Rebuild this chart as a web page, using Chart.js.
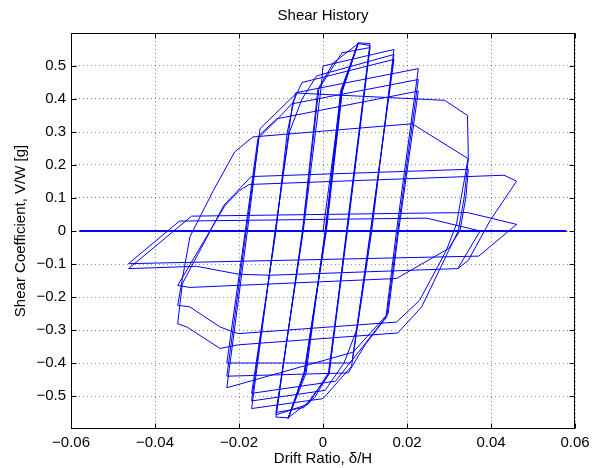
<!DOCTYPE html>
<html>
<head>
<meta charset="utf-8">
<script src="https://cdn.jsdelivr.net/npm/chart.js@4.4.0/dist/chart.umd.js"></script>
<style>
  html, body { margin: 0; padding: 0; background: #fff; }
</style>
</head>
<body>
<canvas id="shear-chart" width="601" height="468"></canvas>
<script>
// axis ticks
const xTicks = [-0.06, -0.04, -0.02, 0, 0.02, 0.04, 0.06];
const xTickLabels = ['\u22120.06', '\u22120.04', '\u22120.02', '0', '0.02', '0.04', '0.06'];
const yTicks = [-0.5, -0.4, -0.3, -0.2, -0.1, 0, 0.1, 0.2, 0.3, 0.4, 0.5];
const yTickLabels = ['\u22120.5', '\u22120.4', '\u22120.3', '\u22120.2', '\u22120.1', '0', '0.1', '0.2', '0.3', '0.4', '0.5'];

// zero line [drift, shear]
const baseline = [[-0.058, 0], [0.058, 0]];

// hysteresis path: [drift ratio, shear coefficient]
const elasticCycles = [
    [0.0000, 0.000], [0.0045, 0.430], [0.0084, 0.570], [0.0045, 0.420],
    [0.0005, 0.000], [-0.0040, -0.430], [-0.0083, -0.568], [-0.0045, -0.430],
    [0.0007, 0.000], [0.0045, 0.430], [0.0084, 0.570], [0.0042, 0.425],
    [0.0006, 0.000], [-0.0042, -0.425], [-0.0083, -0.568], [-0.0044, -0.425],
    [0.0008, 0.000], [0.0046, 0.425], [0.0084, 0.570],
    [0.0112, 0.568], [0.0056, 0.000], [0.0015, -0.430], [-0.0020, -0.505],
    [-0.0083, -0.566], [-0.0112, -0.564], [-0.0049, 0.000], [-0.0012, 0.430],
    [0.0025, 0.510], [0.0084, 0.568], [0.0112, 0.562], [0.0057, 0.000],
    [0.0013, -0.430], [-0.0035, -0.525], [-0.0112, -0.557], [-0.0048, 0.000],
    [-0.0010, 0.430], [0.0045, 0.540], [0.0112, 0.556], [0.0058, 0.000],
    [0.0014, -0.435], [-0.0045, -0.535], [-0.0112, -0.550], [-0.0047, 0.000],
    [-0.0004, 0.440], [0.0000, 0.500],
];
const midCycles = [
    [0.0169, 0.550], [0.0116, 0.000], [0.0068, -0.410], [0.0000, -0.508],
    [-0.0170, -0.538], [-0.0114, 0.000], [-0.0080, 0.300], [-0.0050, 0.400],
    [-0.0015, 0.470], [0.0169, 0.535], [0.0114, 0.000], [0.0080, -0.300],
    [0.0050, -0.400], [0.0005, -0.483], [-0.0170, -0.515], [-0.0113, 0.000],
    [-0.0072, 0.390], [-0.0050, 0.450], [0.0169, 0.520], [0.0113, 0.000],
    [0.0070, -0.390], [0.0030, -0.455], [-0.0170, -0.492], [-0.0112, 0.000],
    [-0.0085, 0.300], [-0.0065, 0.419], [0.0227, 0.492], [0.0175, 0.000],
    [0.0150, -0.260], [0.0095, -0.350], [0.0064, -0.400], [-0.0229, -0.400],
    [-0.0185, 0.000], [-0.0155, 0.280], [-0.0100, 0.350], [-0.0075, 0.385],
    [0.0227, 0.459], [0.0178, 0.000], [0.0152, -0.260], [0.0100, -0.345],
    [0.0060, -0.430], [-0.0229, -0.440], [-0.0183, 0.000], [-0.0152, 0.290],
    [-0.0110, 0.340], [0.0227, 0.424], [0.0180, 0.000], [0.0155, -0.250],
    [0.0105, -0.320], [0.0072, -0.367], [-0.0229, -0.475],
];
const largeCycles = [
    [-0.0180, 0.000], [-0.0150, 0.310], [-0.0063, 0.418], [0.0290, 0.396],
    [0.0344, 0.350], [0.0346, 0.224], [0.0318, 0.022], [0.0294, -0.058],
    [0.0230, -0.210], [0.0175, -0.276], [-0.0202, -0.311], [-0.0245, -0.291],
    [-0.0317, -0.230], [-0.0346, -0.225], [-0.0317, -0.018], [-0.0261, 0.123],
    [-0.0210, 0.240], [-0.0167, 0.285], [0.0212, 0.325], [0.0346, 0.219],
    [0.0336, 0.100], [0.0322, 0.000], [0.0299, -0.060], [0.0235, -0.230],
    [0.0178, -0.309], [-0.0202, -0.345], [-0.0245, -0.356], [-0.0324, -0.291],
    [-0.0346, -0.281], [-0.0335, -0.160], [-0.0236, 0.078], [-0.0171, 0.165],
    [0.0346, 0.187], [0.0340, 0.100], [0.0326, 0.000], [0.0299, -0.053],
    [0.0175, -0.144], [-0.0317, -0.171], [-0.0346, -0.165], [-0.0233, 0.078],
    [-0.0198, 0.123], [-0.0176, 0.141],
];
const finalCycles = [
    [0.0431, 0.169], [0.0461, 0.151], [0.0398, 0.032], [0.0346, -0.089],
    [0.0321, -0.114], [-0.0126, -0.134], [-0.0201, -0.131], [-0.0301, -0.107],
    [-0.0463, -0.114], [-0.0313, 0.045], [0.0344, 0.056], [0.0461, 0.020],
    [0.0371, -0.076], [-0.0463, -0.099], [-0.0342, 0.030], [0.0247, 0.039],
    [0.0374, 0.000], [0.0321, -0.114],
];

const FONT = 'Liberation Sans, Arial, Helvetica, sans-serif';
const toXY = (pts) => pts.map(([x, y]) => ({ x, y }));

// MATLAB-style box with inward tick marks
const boxTicks = {
    id: 'boxTicks',
    afterDatasetsDraw(chart) {
        const { ctx, chartArea: a, scales: { x, y } } = chart;
        const L = Math.round(a.left) + 0.5, R = Math.round(a.right) - 0.5;
        const T = Math.round(a.top) + 0.5, B = Math.round(a.bottom) - 0.5;
        const len = 5;
        ctx.save();
        ctx.strokeStyle = '#000';
        ctx.lineWidth = 1;
        ctx.beginPath();
        xTicks.forEach((v) => {
            const px = Math.round(x.getPixelForValue(v)) + 0.5;
            ctx.moveTo(px, B); ctx.lineTo(px, B - len);
            ctx.moveTo(px, T); ctx.lineTo(px, T + len);
        });
        yTicks.forEach((v) => {
            const py = Math.round(y.getPixelForValue(v)) + 0.5;
            ctx.moveTo(L, py); ctx.lineTo(L + len, py);
            ctx.moveTo(R, py); ctx.lineTo(R - len, py);
        });
        ctx.stroke();
        ctx.strokeRect(L, T, R - L, B - T);
        ctx.restore();
    },
};

new Chart(document.getElementById('shear-chart'), {
    type: 'scatter',
    data: {
        datasets: [
            { data: toXY(baseline), showLine: true, borderColor: '#0000ff', borderWidth: 2, pointRadius: 0 },
            {
                data: toXY([...elasticCycles, ...midCycles, ...largeCycles, ...finalCycles]),
                showLine: true, borderColor: '#0000ff', borderWidth: 1, pointRadius: 0, tension: 0,
            },
        ],
    },
    options: {
        responsive: false, animation: false, devicePixelRatio: 1,
        layout: { padding: { left: 0, right: 26, top: 0, bottom: 0 } },
        plugins: {
            legend: { display: false },
            tooltip: { enabled: false },
            title: {
                display: true, text: 'Shear History', fullSize: false, color: '#000',
                font: { family: FONT, size: 15, weight: 'normal' },
                padding: { top: 7, bottom: 8 },
            },
        },
        scales: {
            x: {
                type: 'linear', min: -0.06, max: 0.06,
                afterBuildTicks: (s) => { s.ticks = xTicks.map((v) => ({ value: v })); },
                afterFit: (s) => { s.height = 39; },
                ticks: {
                    autoSkip: false, maxRotation: 0, padding: 5, color: '#000',
                    font: { family: FONT, size: 15 },
                    callback: (v, i) => xTickLabels[i],
                },
                grid: { color: 'rgba(0,0,0,0.45)', drawTicks: false, lineWidth: 1 },
                border: { display: false, dash: [1, 3] },
                title: {
                    display: true, text: 'Drift Ratio, \u03b4/H', color: '#000',
                    font: { family: FONT, size: 15 }, padding: { top: 0, bottom: 0 },
                },
            },
            y: {
                type: 'linear', min: -0.6, max: 0.6,
                afterBuildTicks: (s) => { s.ticks = yTicks.map((v) => ({ value: v })); },
                afterFit: (s) => { s.width = 71; },
                ticks: {
                    autoSkip: false, padding: 5, color: '#000',
                    font: { family: FONT, size: 15 },
                    callback: (v, i) => yTickLabels[i],
                },
                grid: { color: 'rgba(0,0,0,0.45)', drawTicks: false, lineWidth: 1 },
                border: { display: false, dash: [1, 3] },
                title: {
                    display: true, text: 'Shear Coefficient, V/W [g]', color: '#000',
                    font: { family: FONT, size: 15 }, padding: { top: 12, bottom: 0 },
                },
            },
        },
    },
    plugins: [boxTicks],
});
</script>
</body>
</html>
